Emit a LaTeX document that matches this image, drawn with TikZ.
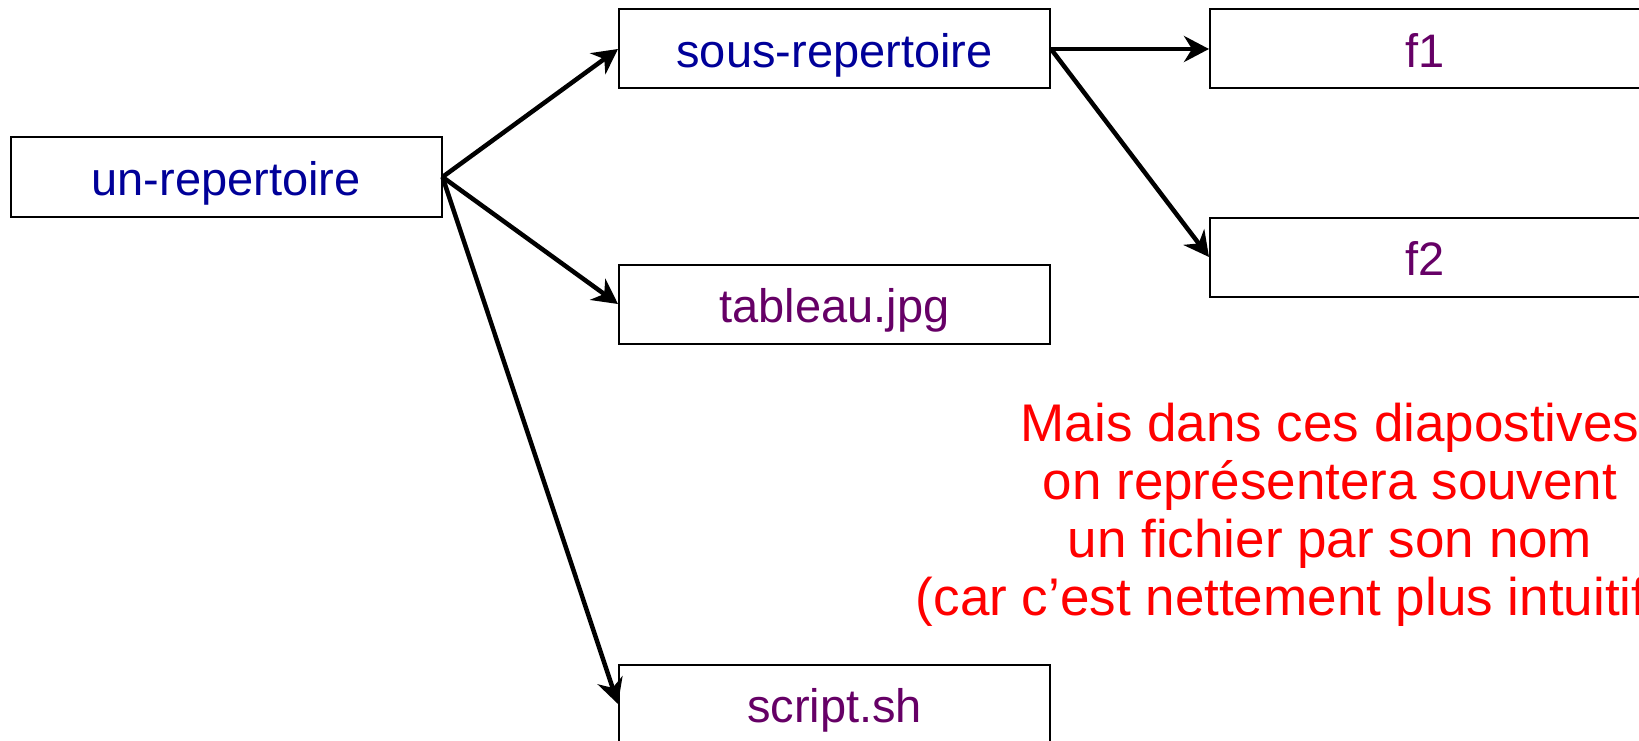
\documentclass[tikz,border=0pt]{standalone}
\usepackage{fontspec}
\setmainfont{Liberation Sans}
\usetikzlibrary{arrows.meta}
\definecolor{dirblue}{RGB}{0,0,153}
\definecolor{filepurple}{RGB}{102,0,102}
\tikzset{
  box/.style={draw=black, line width=2pt, minimum width=431pt, minimum height=79pt,
    inner sep=0pt, text height=37pt, text depth=0pt, font=\fontsize{47}{56}\selectfont},
  dirbox/.style={box, text=dirblue},
  filebox/.style={box, text=filepurple},
  arr/.style={line width=4.5pt, -{Stealth[length=25pt,width=26pt,inset=8pt]}}
}
\begin{document}
\begin{tikzpicture}[x=1pt,y=-1pt]
\useasboundingbox (0,0) rectangle (1639,741);
\clip (0,0) rectangle (1639,741);
\fill[white] (0,0) rectangle (1639,741);
\node[dirbox] (ur) at (226,177) {un-repertoire};
\node[dirbox] (sr) at (834.5,49) {sous-repertoire};
\node[filebox] (tj) at (834.5,304) {tableau.jpg};
\node[filebox] (ss) at (834.5,704) {script.sh};
\node[filebox] (f1) at (1425.5,49) {f1};
\node[filebox] (f2) at (1425.5,257) {f2};
\draw[arr] (ur.east) -- (sr.west);
\draw[arr] (ur.east) -- (tj.west);
\draw[arr] (ur.east) -- (ss.west);
\draw[arr] (sr.east) -- (f1.west);
\draw[arr] (sr.east) -- (f2.west);
\node[anchor=north, align=center, text=red, inner sep=0pt,
  font=\fontsize{53}{58}\selectfont] (note) at (1330,403)
  {Mais dans ces diapostives\\
   on représentera souvent\\
   un fichier par son nom\\
   \hspace*{-80pt}(car c’est nettement plus intuitif)};
\end{tikzpicture}
\end{document}
